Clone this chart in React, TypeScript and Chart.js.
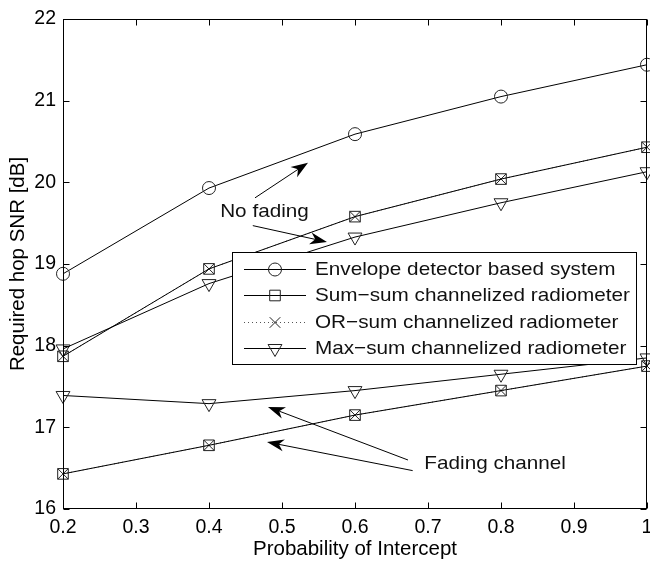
import React, { useEffect, useRef } from 'react';
import { Chart, registerables } from 'chart.js';

Chart.register(...registerables);

// ---------- data ----------
const probIntercept = [0.2, 0.4, 0.6, 0.8, 1.0];

const envelopeNoFading = [18.88, 19.93, 20.59, 21.05, 21.44];
const sumSumNoFading = [17.87, 18.94, 19.58, 20.04, 20.43];
const orSumNoFading = [17.87, 18.94, 19.58, 20.04, 20.43];
const maxSumNoFading = [17.96, 18.76, 19.33, 19.75, 20.13];

const sumSumFading = [16.43, 16.78, 17.15, 17.45, 17.75];
const orSumFading = [16.43, 16.78, 17.15, 17.45, 17.75];
const maxSumFading = [17.39, 17.29, 17.45, 17.65, 17.85];

const xTicks = [0.2, 0.3, 0.4, 0.5, 0.6, 0.7, 0.8, 0.9, 1.0];
const xTickLabels = ['0.2', '0.3', '0.4', '0.5', '0.6', '0.7', '0.8', '0.9', '1'];
const yTicks = [16, 17, 18, 19, 20, 21, 22];
const yTickLabels = ['16', '17', '18', '19', '20', '21', '22'];

const legendLabels = [
  'Envelope detector based system',
  'Sum\u2212sum channelized radiometer',
  'OR\u2212sum channelized radiometer',
  'Max\u2212sum channelized radiometer',
];

// annotation texts (data coordinates)
const annotationTexts = [
  { text: 'No fading', x: 0.476, y: 19.64 },
  { text: 'Fading channel', x: 0.792, y: 16.56 },
];
// arrows: [fromX, fromY, toX, toY] in data coordinates
const annotationArrows = [
  [0.463, 19.81, 0.5356, 20.24],
  [0.46, 19.47, 0.5616, 19.27],
  [0.6726, 16.6, 0.4808, 17.25],
  [0.679, 16.47, 0.4795, 16.82],
];

// ---------- styling ----------
const FONT = 'Liberation Sans';
const TICK_FONT = { family: FONT, size: 19.5 };
const TITLE_FONT = { family: FONT, size: 20.5 };
const TEXT_STRETCH = 1.09;

type Marker = 'circle' | 'rect' | 'crossRot' | 'triangleDown';

const markerRadius: Record<Marker, number> = {
  circle: 6.5,
  rect: 7.5,
  crossRot: 7.5,
  triangleDown: 8,
};

function drawMarker(ctx: CanvasRenderingContext2D, m: Marker, x: number, y: number) {
  const r = markerRadius[m];
  ctx.beginPath();
  if (m === 'circle') {
    ctx.arc(x, y, r, 0, Math.PI * 2);
  } else if (m === 'rect') {
    const s = r * Math.SQRT1_2;
    ctx.rect(x - s, y - s, 2 * s, 2 * s);
  } else if (m === 'crossRot') {
    const s = r * Math.SQRT1_2;
    ctx.moveTo(x - s, y - s);
    ctx.lineTo(x + s, y + s);
    ctx.moveTo(x + s, y - s);
    ctx.lineTo(x - s, y + s);
  } else {
    ctx.moveTo(x, y + r);
    ctx.lineTo(x - r * 0.866, y - r * 0.5);
    ctx.lineTo(x + r * 0.866, y - r * 0.5);
    ctx.closePath();
  }
  ctx.stroke();
}

function makeSeries(label: string, values: number[], marker: Marker, dotted: boolean, legendIndex: number) {
  const style = marker === 'triangleDown' ? 'triangle' : marker;
  return {
    label,
    legendIndex,
    marker,
    data: probIntercept.map((x, i) => ({ x, y: values[i] })),
    borderColor: dotted ? '#555' : '#000',
    borderWidth: 1,
    borderDash: dotted ? [1, 3] : [],
    pointStyle: style,
    pointRotation: marker === 'triangleDown' ? 180 : 0,
    pointRadius: markerRadius[marker],
    pointHoverRadius: markerRadius[marker],
    pointBorderColor: '#222',
    pointBackgroundColor: 'rgba(0,0,0,0)',
    pointBorderWidth: 1,
    fill: false,
    tension: 0,
    clip: false,
  };
}

const datasets = [
  makeSeries(legendLabels[0], envelopeNoFading, 'circle', false, 0),
  makeSeries(legendLabels[1], sumSumNoFading, 'rect', false, 1),
  makeSeries(legendLabels[2], orSumNoFading, 'crossRot', true, 2),
  makeSeries(legendLabels[3], maxSumNoFading, 'triangleDown', false, 3),
  makeSeries(legendLabels[1] + ' (fading)', sumSumFading, 'rect', false, -1),
  makeSeries(legendLabels[2] + ' (fading)', orSumFading, 'crossRot', true, -1),
  makeSeries(legendLabels[3] + ' (fading)', maxSumFading, 'triangleDown', false, -1),
];

function stretchedText(ctx: CanvasRenderingContext2D, text: string, x: number, y: number, align: 'left' | 'center') {
  ctx.save();
  ctx.translate(x, y);
  ctx.scale(TEXT_STRETCH, 1);
  ctx.textAlign = align;
  ctx.textBaseline = 'middle';
  ctx.fillText(text, 0, 0);
  ctx.restore();
}

function drawArrow(ctx: CanvasRenderingContext2D, x1: number, y1: number, x2: number, y2: number) {
  const ang = Math.atan2(y2 - y1, x2 - x1);
  const len = 17;
  const hw = 6;
  const notch = 5;
  const bx = x2 - Math.cos(ang) * len;
  const by = y2 - Math.sin(ang) * len;
  const nx = x2 - Math.cos(ang) * (len - notch);
  const ny = y2 - Math.sin(ang) * (len - notch);
  const px = -Math.sin(ang);
  const py = Math.cos(ang);
  ctx.beginPath();
  ctx.moveTo(x1, y1);
  ctx.lineTo(nx, ny);
  ctx.stroke();
  ctx.beginPath();
  ctx.moveTo(x2, y2);
  ctx.lineTo(bx + px * hw, by + py * hw);
  ctx.lineTo(nx, ny);
  ctx.lineTo(bx - px * hw, by - py * hw);
  ctx.closePath();
  ctx.fill();
}

const matlabPlugin = {
  id: 'matlabDecor',
  afterDatasetsDraw(chart: any) {
    const { ctx, chartArea, scales } = chart;
    const { left, right, top, bottom } = chartArea;
    const xs = scales.x;
    const ys = scales.y;
    ctx.save();
    ctx.strokeStyle = '#000';
    ctx.fillStyle = '#000';
    ctx.lineWidth = 1;
    // frame
    const L = Math.round(left) + 0.5;
    const R = Math.round(right) - 0.5;
    const T = Math.round(top) + 0.5;
    const B = Math.round(bottom) - 0.5;
    ctx.strokeRect(L, T, R - L, B - T);
    // inward ticks
    const tl = 6;
    ctx.beginPath();
    xTicks.forEach((v) => {
      const px = Math.round(xs.getPixelForValue(v)) + 0.5;
      ctx.moveTo(px, B);
      ctx.lineTo(px, B - tl);
      ctx.moveTo(px, T);
      ctx.lineTo(px, T + tl);
    });
    yTicks.forEach((v) => {
      const py = Math.round(ys.getPixelForValue(v)) + 0.5;
      ctx.moveTo(L, py);
      ctx.lineTo(L + tl, py);
      ctx.moveTo(R, py);
      ctx.lineTo(R - tl, py);
    });
    ctx.stroke();
    // annotations
    annotationArrows.forEach(([fx, fy, tx, ty]) => {
      drawArrow(
        ctx,
        xs.getPixelForValue(fx),
        ys.getPixelForValue(fy),
        xs.getPixelForValue(tx),
        ys.getPixelForValue(ty)
      );
    });
    ctx.font = `19px "${FONT}"`;
    ctx.fillStyle = '#111';
    annotationTexts.forEach((a) => {
      stretchedText(ctx, a.text, xs.getPixelForValue(a.x), ys.getPixelForValue(a.y), 'center');
    });
    ctx.restore();
  },
  afterDraw(chart: any) {
    const { ctx, chartArea } = chart;
    const boxRight = chartArea.right - 11;
    const boxLeft = boxRight - 404;
    const boxTop = chartArea.top + 233;
    const rowH = 26.4;
    const boxH = 112;
    ctx.save();
    ctx.fillStyle = '#fff';
    ctx.strokeStyle = '#000';
    ctx.lineWidth = 1;
    ctx.fillRect(boxLeft, boxTop, boxRight - boxLeft, boxH);
    ctx.strokeRect(Math.round(boxLeft) + 0.5, Math.round(boxTop) + 0.5, Math.round(boxRight - boxLeft), boxH);
    const entries = chart.data.datasets.filter((d: any) => d.legendIndex >= 0);
    entries.forEach((d: any, i: number) => {
      const cy = Math.round(boxTop + 17 + i * rowH) + 0.5;
      const x0 = boxLeft + 12;
      const x1 = boxLeft + 74;
      const mx = boxLeft + 43;
      ctx.strokeStyle = d.borderColor;
      ctx.setLineDash(d.borderDash);
      ctx.beginPath();
      ctx.moveTo(x0, cy);
      ctx.lineTo(x1, cy);
      ctx.stroke();
      ctx.setLineDash([]);
      ctx.strokeStyle = '#222';
      drawMarker(ctx, d.marker, mx, cy);
      ctx.fillStyle = '#111';
      ctx.font = `19px "${FONT}"`;
      stretchedText(ctx, d.label, boxLeft + 83, cy, 'left');
    });
    ctx.restore();
  },
};

export default function App() {
  const ref = useRef<HTMLCanvasElement>(null);
  useEffect(() => {
    document.body.style.margin = '0';
    Chart.defaults.font.family = FONT;
    const chart = new Chart(ref.current as HTMLCanvasElement, {
      type: 'line',
      data: { datasets: datasets as any },
      options: {
        animation: false,
        responsive: false,
        maintainAspectRatio: false,
        layout: { autoPadding: false, padding: { top: 19, right: 3, left: 0, bottom: 0 } },
        plugins: {
          legend: { display: false },
          tooltip: { enabled: false },
        },
        scales: {
          x: {
            type: 'linear',
            min: 0.2,
            max: 1,
            afterBuildTicks: (s: any) => {
              s.ticks = xTicks.map((v) => ({ value: v }));
            },
            ticks: {
              callback: (_v: any, i: number) => xTickLabels[i],
              font: TICK_FONT,
              color: '#000',
              padding: 7,
              maxRotation: 0,
              autoSkip: false,
            },
            grid: { display: false, drawTicks: false },
            border: { display: false },
            title: {
              display: true,
              text: 'Probability of Intercept',
              font: TITLE_FONT,
              color: '#000',
              padding: { top: 0, bottom: 0 },
            },
            afterFit: (s: any) => {
              s.height = 53;
              s.paddingLeft = 0;
              s.paddingRight = 0;
            },
          },
          y: {
            type: 'linear',
            min: 16,
            max: 22,
            afterBuildTicks: (s: any) => {
              s.ticks = yTicks.map((v) => ({ value: v }));
            },
            ticks: {
              callback: (_v: any, i: number) => yTickLabels[i],
              font: TICK_FONT,
              color: '#000',
              padding: 7,
              autoSkip: false,
            },
            grid: { display: false, drawTicks: false },
            border: { display: false },
            title: {
              display: true,
              text: 'Required hop SNR [dB]',
              font: TITLE_FONT,
              color: '#000',
              padding: { top: 6, bottom: 0 },
            },
            afterFit: (s: any) => {
              s.width = 63;
              s.paddingTop = 0;
              s.paddingBottom = 0;
            },
          },
        },
      } as any,
      plugins: [matlabPlugin],
    });
    return () => chart.destroy();
  }, []);
  return (
    <div style={{ width: 650, height: 562 }}>
      <canvas ref={ref} width={650} height={562} style={{ display: 'block' }} />
    </div>
  );
}
